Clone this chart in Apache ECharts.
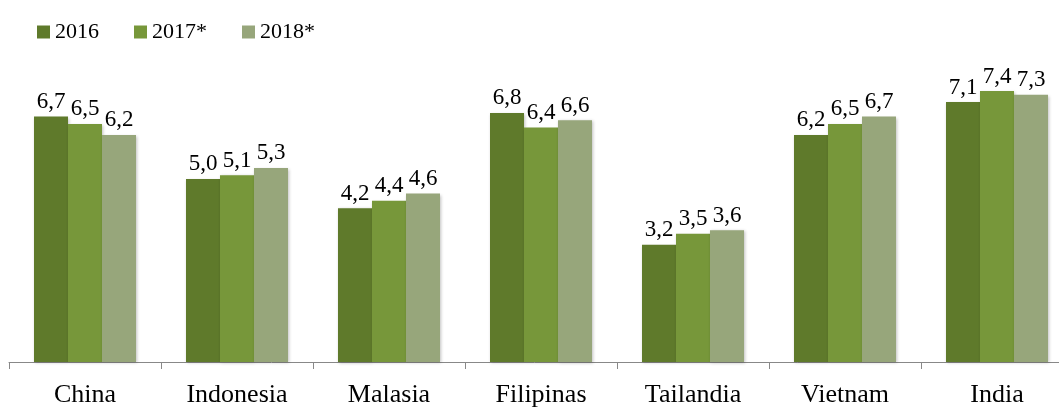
<!DOCTYPE html>
<html>
<head>
<meta charset="utf-8">
<script src="https://cdn.jsdelivr.net/npm/echarts@6/dist/echarts.min.js"></script>
<style>
  html, body { margin: 0; padding: 0; background: #fff; overflow: hidden; }
  #chart { width: 1059px; height: 408px; }
</style>
</head>
<body>
<div id="chart"></div>
<script>
var categories = ["China", "Indonesia", "Malasia", "Filipinas", "Tailandia", "Vietnam", "India"];
var seriesNames = ["2016", "2017*", "2018*"];
var values2016 = [6.7, 5.0, 4.2, 6.8, 3.2, 6.2, 7.1];
var values2017 = [6.5, 5.1, 4.4, 6.4, 3.5, 6.5, 7.4];
var values2018 = [6.2, 5.3, 4.6, 6.6, 3.6, 6.7, 7.3];
var colors = ["#5f7a2b", "#77973a", "#97a67b"];

var myChart = echarts.init(document.getElementById("chart"));
var font = "'Liberation Serif', 'DejaVu Serif', serif";

function makeSeries(name, data, color) {
  return {
    name: name,
    type: "bar",
    data: data,
    barWidth: 34,
    barGap: "0%",
    itemStyle: {
      color: color,
      shadowColor: "rgba(0,0,0,0.25)",
      shadowBlur: 3,
      shadowOffsetX: 1,
      shadowOffsetY: 1
    },
    label: {
      show: true,
      position: "top",
      distance: 3,
      color: "#000",
      fontFamily: font,
      fontSize: 23,
      formatter: function (p) {
        return p.value.toFixed(1).replace(".", ",");
      }
    }
  };
}

var option = {
  animation: false,
  color: colors,
  legend: {
    left: 32,
    top: 16,
    itemWidth: 13,
    itemHeight: 13,
    itemGap: 35,
    icon: "rect",
    textStyle: { fontFamily: font, fontSize: 22, color: "#000" },
    data: seriesNames
  },
  grid: {
    left: 9,
    width: 1064,
    top: 69,
    bottom: 46,
    containLabel: false,
    outerBoundsMode: "none"
  },
  xAxis: {
    type: "category",
    data: categories,
    axisLine: { lineStyle: { color: "#888", width: 1 } },
    axisTick: { show: true, length: 7, lineStyle: { color: "#888" } },
    axisLabel: { fontFamily: font, fontSize: 26, color: "#000", margin: 20 }
  },
  yAxis: {
    type: "value",
    min: 0,
    max: 8,
    show: false,
    splitLine: { show: false }
  },
  series: [
    makeSeries(seriesNames[0], values2016, colors[0]),
    makeSeries(seriesNames[1], values2017, colors[1]),
    makeSeries(seriesNames[2], values2018, colors[2])
  ]
};

myChart.setOption(option);
window.addEventListener("resize", function () {
  myChart.resize();
});
</script>
</body>
</html>
